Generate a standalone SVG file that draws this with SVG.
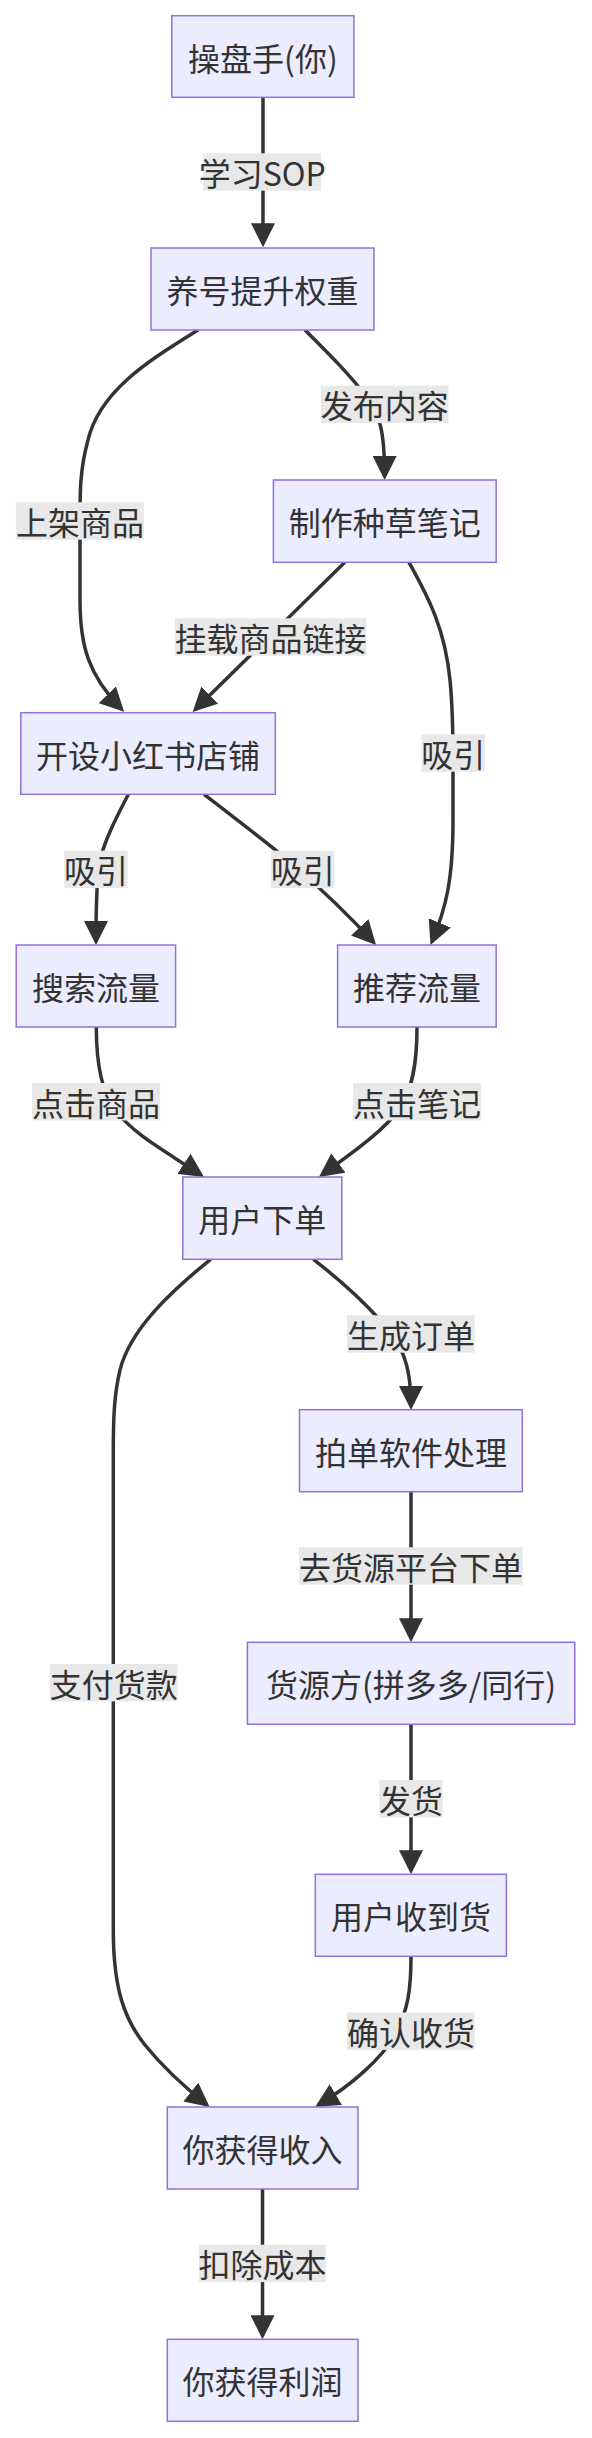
<svg xmlns="http://www.w3.org/2000/svg" width="592" height="2438" viewBox="0 0 592 2438">
<style>
.node rect{fill:#ECECFF;stroke:#9370DB;stroke-width:1.5}
text{font-family:"Noto Sans CJK SC","Noto Sans",sans-serif;font-size:32px;fill:#333333;text-anchor:middle;dominant-baseline:central}
.lbl rect{fill:#e8e8e8}
.edge{fill:none;stroke:#333333;stroke-width:3.5;marker-end:url(#arrow)}
</style>
<defs>
<marker id="arrow" viewBox="0 0 10 10" refX="8.5" refY="5" markerUnits="userSpaceOnUse" markerWidth="24" markerHeight="24" orient="auto">
<path d="M0,0 L10,5 L0,10 z" fill="#333333"/>
</marker>
</defs>
<rect width="592" height="2438" fill="#ffffff"/>
<g id="connectors">
<path class="edge" d="M263,97.3 L263,243.7"/>
<path class="edge" d="M198,330 C150,360 100,390 88,440 C80,470 80,490 80,520 L80,600 C80,645 88,675 121.6,709.3"/>
<path class="edge" d="M305,330 C330,355 350,375 365,395 C380,415 384.6,430 384.6,476.4"/>
<path class="edge" d="M344.8,562.3 L195.2,709.5"/>
<path class="edge" d="M409,562.3 C430,600 445,630 450,680 C453,710 453,740 453,760 L453,820 C453,880 446,908 431.9,941.7"/>
<path class="edge" d="M128.4,794.3 C115,820 105,840 100,860 C97,875 96,900 96,941.4"/>
<path class="edge" d="M204,794.3 C240,822 270,845 295,866 C320,888 352,919 373.6,942.3"/>
<path class="edge" d="M96.3,1027 C96.3,1060 100,1090 115,1110 C135,1135 160,1148 201,1175"/>
<path class="edge" d="M417,1027 C417,1065 412,1090 400,1108 C385,1130 352,1153 321.9,1174.9"/>
<path class="edge" d="M210.7,1259.3 C170,1292 130,1330 120,1370 C114,1395 113.3,1420 113.3,1450 L113.3,1930 C113.3,1990 125,2020 145,2045 C162,2066 182,2085 206.8,2104.7"/>
<path class="edge" d="M313.4,1259.3 C340,1280 362,1300 380,1320 C400,1343 411,1360 411,1406.4"/>
<path class="edge" d="M411,1491.7 L411,1638.7"/>
<path class="edge" d="M411,1724.3 L411,1870.7"/>
<path class="edge" d="M411,1956.3 C411,1990 408,2010 395,2035 C382,2058 352,2085 318.3,2105"/>
<path class="edge" d="M262.5,2189 L262.5,2335.7"/>
</g>
<g id="edge-labels">
<g class="lbl"><rect x="203.2" y="153.3" width="117.8" height="37.4"/><text x="262.3" y="172">学习SOP</text></g>
<g class="lbl"><rect x="321" y="385.7" width="127.6" height="37.4"/><text x="384.8" y="404.4">发布内容</text></g>
<g class="lbl"><rect x="15.9" y="502.3" width="128" height="37.4"/><text x="79.9" y="521">上架商品</text></g>
<g class="lbl"><rect x="174.8" y="618.3" width="191.5" height="37.4"/><text x="270.6" y="637">挂载商品链接</text></g>
<g class="lbl"><rect x="421.5" y="734.3" width="63.4" height="37.4"/><text x="453.2" y="753">吸引</text></g>
<g class="lbl"><rect x="64.2" y="850.7" width="63.4" height="37.4"/><text x="95.9" y="869.4">吸引</text></g>
<g class="lbl"><rect x="271.1" y="850.7" width="63.1" height="37.4"/><text x="302.7" y="869.4">吸引</text></g>
<g class="lbl"><rect x="32.1" y="1083" width="128" height="37.4"/><text x="96.1" y="1101.7">点击商品</text></g>
<g class="lbl"><rect x="353.1" y="1083" width="128" height="37.4"/><text x="417.1" y="1101.7">点击笔记</text></g>
<g class="lbl"><rect x="347" y="1315.3" width="127.7" height="37.4"/><text x="410.9" y="1334">生成订单</text></g>
<g class="lbl"><rect x="299" y="1547.3" width="223.7" height="37.4"/><text x="410.9" y="1566">去货源平台下单</text></g>
<g class="lbl"><rect x="49.8" y="1664" width="127.7" height="37.4"/><text x="113.7" y="1682.7">支付货款</text></g>
<g class="lbl"><rect x="379.2" y="1780" width="63.4" height="37.4"/><text x="410.9" y="1798.7">发货</text></g>
<g class="lbl"><rect x="347" y="2012.5" width="127.7" height="37.4"/><text x="410.9" y="2031.2">确认收货</text></g>
<g class="lbl"><rect x="199" y="2244.7" width="126.9" height="37.4"/><text x="262.5" y="2263.4">扣除成本</text></g>
</g>
<g id="n1" class="node"><rect x="171.8" y="15.7" width="182.1" height="81.6"/><text x="262.9" y="56.5">操盘手(你)</text></g>
<g id="n2" class="node"><rect x="151" y="248" width="222.9" height="82"/><text x="262.5" y="289">养号提升权重</text></g>
<g id="n3" class="node"><rect x="273.4" y="480" width="222.8" height="82.3"/><text x="384.8" y="521.2">制作种草笔记</text></g>
<g id="n4" class="node"><rect x="20.8" y="712.7" width="254.5" height="81.6"/><text x="148" y="753.5">开设小红书店铺</text></g>
<g id="n5" class="node"><rect x="16.2" y="945" width="159.4" height="82"/><text x="95.9" y="986">搜索流量</text></g>
<g id="n6" class="node"><rect x="337.6" y="945" width="158.6" height="82"/><text x="416.9" y="986">推荐流量</text></g>
<g id="n7" class="node"><rect x="182.8" y="1177" width="159" height="82.3"/><text x="262.3" y="1218">用户下单</text></g>
<g id="n8" class="node"><rect x="299.5" y="1409.7" width="222.8" height="82"/><text x="410.9" y="1450.7">拍单软件处理</text></g>
<g id="n9" class="node"><rect x="247.4" y="1642.3" width="327.4" height="82"/><text x="411.1" y="1683.3">货源方(拼多多/同行)</text></g>
<g id="n10" class="node"><rect x="315.3" y="1874.3" width="191.1" height="82"/><text x="410.9" y="1915.3">用户收到货</text></g>
<g id="n11" class="node"><rect x="167.3" y="2107" width="190.7" height="82"/><text x="262.6" y="2148">你获得收入</text></g>
<g id="n12" class="node"><rect x="167.3" y="2339.3" width="190.7" height="82"/><text x="262.6" y="2380.3">你获得利润</text></g>
</svg>
